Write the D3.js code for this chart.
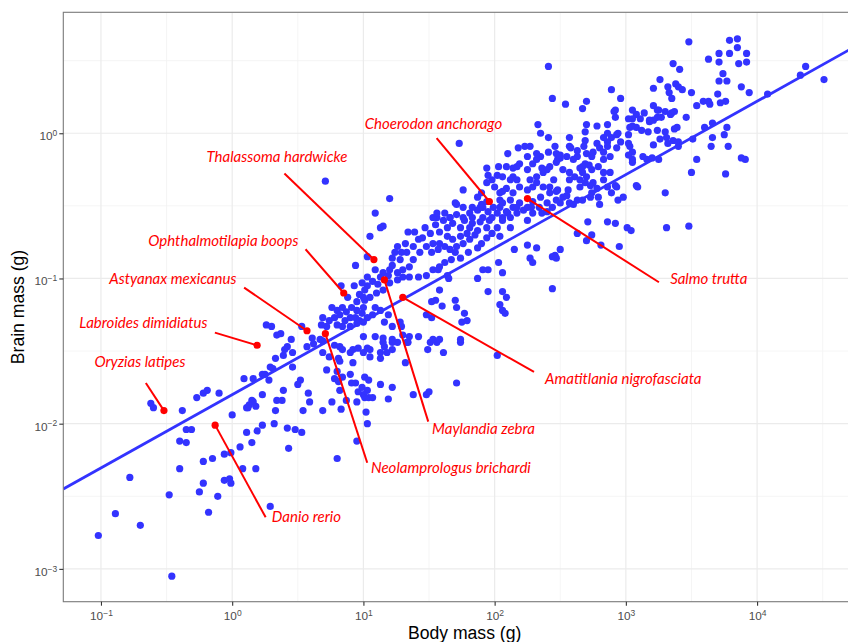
<!DOCTYPE html>
<html>
<head>
<meta charset="utf-8">
<script src="https://cdn.jsdelivr.net/npm/d3@7"></script>
<style>
  body { margin: 0; background: #fff; }
</style>
</head>
<body>
<div id="chart"></div>
<script>
// log10(body mass g), log10(brain mass g) for every species
const speciesLogMass = [
  [-1.02,-2.77],[-0.89,-2.62],[-0.70,-2.70],[-0.78,-2.37],[-0.48,-2.49],[-0.46,-3.05],[-0.38,-1.91],[-0.62,-1.86],[-0.60,-1.89],[-0.40,-2.12],
  [-0.35,-2.13],[-0.35,-2.04],[-0.31,-2.04],[-0.40,-2.31],[-0.22,-2.26],[-0.15,-2.24],[-0.22,-2.41],[-0.25,-2.47],[-0.18,-2.61],[-0.11,-2.50],
  [-0.06,-2.21],[-0.01,-2.20],[0.00,-1.94],[-0.06,-2.39],[-0.02,-2.38],[-0.01,-2.41],[0.06,-2.16],[0.08,-2.31],[0.18,-2.31],[0.11,-2.06],
  [0.19,-2.05],[0.15,-2.13],[0.11,-1.89],[0.12,-1.89],[0.18,-1.88],[0.15,-1.84],[0.23,-2.01],[0.32,-2.00],[0.33,-1.91],[0.34,-1.84],
  [0.29,-2.57],[0.42,-2.03],[0.48,-2.04],[0.43,-2.17],
  [0.94,-0.91],[0.83,-1.05],[0.93,-1.05],[0.88,-1.13],[0.97,-1.11],[1.01,-1.15],[0.95,-1.16],[0.76,-1.20],[0.80,-1.22],[0.84,-1.20],
  [0.87,-1.23],[0.91,-1.20],[0.95,-1.22],[1.00,-1.20],[0.69,-1.27],[0.74,-1.29],[0.78,-1.27],[0.82,-1.25],[0.86,-1.29],[0.90,-1.27],
  [0.94,-1.27],[0.97,-1.29],[1.03,-1.27],[0.68,-1.32],[0.72,-1.33],[0.80,-1.32],[0.84,-1.33],[0.90,-1.33],[0.95,-1.31],[1.00,-1.30],
  [0.53,-1.33],[0.26,-1.32],[0.30,-1.33],[0.34,-1.39],[0.37,-1.38],[0.45,-1.42],[0.61,-1.41],[0.42,-1.47],[0.40,-1.49],[0.46,-1.51],
  [0.57,-1.47],[0.62,-1.45],[0.67,-1.42],[0.33,-1.55],[0.29,-1.61],[0.31,-1.62],[0.25,-1.66],[0.23,-1.66],[0.46,-1.61],[0.16,-1.69],
  [0.09,-1.69],[0.28,-1.70],[0.52,-1.70],[0.50,-1.73],[0.69,-1.51],[0.74,-1.54],[0.78,-1.46],[0.82,-1.47],[0.84,-1.49],[0.90,-1.51],
  [0.92,-1.49],[0.96,-1.48],[1.00,-1.51],[1.03,-1.48],[0.72,-1.63],[0.80,-1.64],[0.84,-1.68],[0.90,-1.66],[0.94,-1.72],[0.99,-1.75],
  [1.03,-1.77],[0.58,-1.79],[0.59,-1.85],[0.76,-1.85],[0.82,-1.77],[0.87,-1.84],[0.95,-1.85],[1.00,-1.80],[0.39,-1.77],[0.38,-1.84],
  [0.23,-1.80],[0.16,-1.85],[0.13,-1.87],[-0.10,-1.79],[-0.19,-1.77],[-0.22,-1.79],[-0.27,-1.82],[1.03,-0.85],
  [0.39,-1.53],[0.54,-1.91],[0.69,-1.91],[0.83,-1.90],[0.78,-1.69],[0.81,-1.71],[0.81,-1.55],[0.82,-1.57],[0.92,-1.58],[0.91,-1.72],
  [0.96,-1.78],[1.01,-1.68],[1.04,-1.70],[1.01,-1.82],[1.04,-1.82],[1.07,-1.82],[1.02,-1.92],[1.03,-2.00],[0.95,-2.12],[0.80,-2.24],
  [0.53,-2.06],[1.13,-1.73],[1.22,-1.75],[1.19,-1.83],[1.13,-1.55],[1.18,-1.51],[1.05,-1.49],[1.32,-1.58],[1.38,-1.80],[1.48,-1.80],
  [1.50,-1.78],[1.49,-1.49],[1.56,-1.44],[1.61,-1.51],[1.71,-1.72],[1.74,-1.44],[2.02,-1.53],[0.69,-1.43],[1.15,-1.44],[1.22,-1.44],
  [1.26,-1.44],[1.34,-1.44],
  [1.09,-0.55],[1.15,-0.64],[1.13,-0.65],[1.05,-0.71],[1.34,-0.68],[1.39,-0.68],[1.32,-0.76],[1.26,-0.78],[1.24,-0.82],[1.22,-0.86],
  [1.29,-0.82],[1.47,-0.65],[1.55,-0.63],[1.51,-0.69],[1.58,-0.68],[1.64,-0.65],[1.66,-0.58],[1.71,-0.56],[1.68,-0.62],[1.74,-0.65],
  [1.77,-0.60],[1.81,-0.55],[1.87,-0.53],[1.91,-0.58],[1.83,-0.62],[1.79,-0.69],[1.74,-0.71],[1.68,-0.73],[1.64,-0.71],[1.58,-0.76],
  [1.53,-0.76],[1.48,-0.78],[1.43,-0.82],[1.38,-0.87],[1.35,-0.92],[1.30,-0.94],[1.26,-0.96],[1.20,-0.94],[1.15,-0.96],[1.13,-0.99],
  [1.09,-0.94],[1.07,-1.02],[1.03,-1.05],[1.01,-1.08],[1.00,-1.13],[1.05,-1.13],[1.10,-1.10],[1.15,-1.08],[1.20,-1.03],[1.26,-1.01],
  [1.30,-0.99],[1.35,-0.99],[1.42,-0.99],[1.48,-0.98],[1.53,-0.94],[1.58,-0.92],[1.62,-0.89],[1.67,-0.87],[1.74,-0.86],[1.80,-0.82],
  [1.87,-0.79],[1.90,-0.76],[1.94,-0.72],[1.98,-0.69],[2.02,-0.65],[2.06,-0.60],[2.10,-0.55],[2.14,-0.51],[2.19,-0.48],[2.02,-0.55],
  [1.96,-0.60],[1.99,-0.51],[2.06,-0.48],[2.12,-0.65],[2.04,-0.71],[1.45,-0.72],[1.52,-0.82],[1.57,-0.80],[1.62,-0.78],[1.66,-0.80],
  [1.71,-0.78],[1.70,-0.82],[1.76,-0.76],[1.81,-0.73],[1.85,-0.70],[1.87,-0.67],[1.81,-0.65],[1.61,-0.60],[1.56,-0.58],[1.62,-0.55],
  [1.76,-0.51],[1.90,-0.49],[1.95,-0.54],[1.38,-0.78],[1.42,-0.73],[1.33,-0.82],[1.28,-0.87],[1.22,-0.91],[1.19,-0.98],[1.11,-1.04],
  [1.03,-0.99],[0.99,-1.03],[1.94,-0.65],[1.89,-0.61],[2.17,-0.55],[2.22,-0.53],[2.28,-0.51],[2.25,-0.60],[2.29,-0.47],[2.40,-0.48],
  [2.44,-0.51],[2.36,-0.55],
  [1.57,-0.94],[1.64,-0.98],[1.65,-1.00],[1.87,-1.00],[1.95,-0.94],[1.91,-0.94],[2.03,-0.89],[2.06,-0.96],[2.15,-0.80],[2.25,-0.77],
  [2.32,-0.79],[2.27,-0.86],[2.29,-0.89],[2.46,-0.84],[2.44,-0.85],[2.44,-1.07],[1.95,-1.09],[2.06,-1.09],[2.09,-1.13],[2.06,-1.22],
  [2.04,-1.18],[2.08,-1.24],[1.58,-1.08],[1.55,-1.15],[1.52,-1.16],[1.60,-1.19],[1.70,-1.15],[1.71,-1.20],[1.77,-1.24],[1.75,-1.30],
  [1.79,-1.29],[1.52,-1.27],[1.48,-1.25],[1.28,-1.30],[1.29,-1.33],[1.22,-1.33],[1.16,-1.30],[1.19,-1.25],[1.13,-1.22],[1.09,-1.20],
  [1.07,-1.25],[0.99,-1.24],[1.00,-1.40],[1.09,-1.40],[1.15,-1.41],[1.22,-1.42],[1.16,-1.47],[1.22,-1.49],[1.13,-1.51],[1.05,-1.54],
  [1.30,-1.39],[1.35,-1.40],[1.33,-1.44],[1.42,-1.40],[1.51,-1.44],[1.53,-1.42],[1.58,-1.42],[1.74,-1.42],
  [2.41,0.46],[2.44,0.24],[2.33,0.06],[2.35,-0.00],[2.41,-0.03],[2.18,-0.10],[2.10,-0.14],[2.27,-0.09],[1.94,-0.24],[2.03,-0.23],
  [2.09,-0.23],[2.14,-0.24],[1.98,-0.32],[1.94,-0.34],[1.76,-0.39],[1.73,-0.07],[0.71,-0.33],[1.20,-0.45],[1.70,-0.48],[1.71,-0.49],
  [1.87,-0.44],[1.90,-0.41],[2.00,-0.37],[2.04,-0.41],[2.09,-0.38],[2.14,-0.41],[2.19,-0.37],[2.27,-0.32],[2.32,-0.30],[2.37,-0.27],
  [2.42,-0.23],[2.48,-0.18],[2.29,-0.21],[2.35,-0.16],[2.41,-0.13],[2.46,-0.09],[2.25,-0.16],[2.19,-0.21],[2.14,-0.30],[2.06,-0.30],
  [2.02,-0.29],[2.17,-0.32],[2.29,-0.37],[2.37,-0.37],[2.45,-0.32],[2.35,-0.44],[2.42,-0.41],[2.48,-0.39],[2.25,-0.51],[2.17,-0.51],
  [2.09,-0.54],[2.04,-0.51],[1.91,-0.51],[1.83,-0.51],[2.29,-0.55],[2.40,-0.54],[2.06,-0.58],[1.76,-0.58],[1.83,-0.58],[1.66,-0.58],
  [1.53,-0.58],[1.56,-0.55],
  [2.70,0.06],[2.78,0.05],[2.86,0.06],[2.92,0.11],[2.91,0.15],[3.05,0.16],[3.08,0.13],[3.11,0.10],[3.05,0.10],[3.18,0.08],
  [3.21,0.09],[3.24,0.11],[3.27,0.11],[3.30,0.15],[3.35,0.14],[3.25,0.16],[3.21,0.19],[3.14,0.14],[3.03,0.04],[3.08,0.04],
  [3.12,0.02],[3.17,0.01],[3.24,0.02],[3.30,0.01],[3.39,0.04],[3.36,-0.05],[3.40,-0.06],[3.26,-0.04],[3.21,-0.08],[3.13,-0.16],
  [3.02,-0.01],[3.02,-0.07],[3.05,-0.13],[3.05,-0.18],[3.16,-0.18],[3.20,-0.17],[2.69,-0.05],[2.68,-0.09],[2.70,-0.14],[2.74,-0.16],
  [2.78,-0.07],[2.80,-0.10],[2.83,-0.13],[2.86,-0.06],[2.89,-0.03],[2.93,-0.01],[2.96,-0.06],[2.93,-0.10],[2.88,-0.16],[2.83,-0.18],
  [2.79,-0.23],[2.74,-0.25],[2.69,-0.21],[2.65,-0.24],[2.63,-0.16],[2.60,-0.18],[2.55,-0.16],[2.50,-0.17],[2.47,-0.14],[2.47,-0.20],
  [2.52,-0.25],[2.57,-0.27],[2.61,-0.30],[2.65,-0.32],[2.70,-0.30],[2.75,-0.34],[2.78,-0.38],[2.83,-0.32],[2.88,-0.27],[2.93,-0.37],
  [2.86,-0.37],[2.79,-0.44],[2.73,-0.44],[2.67,-0.46],[2.63,-0.46],[2.57,-0.48],[2.52,-0.44],[2.47,-0.40],[2.42,-0.37],[2.36,-0.24],
  [2.32,-0.18],[2.23,-0.09],[2.17,-0.23],[2.12,-0.32],[2.06,-0.40],[1.95,-0.29],[2.25,-0.25],[2.32,-0.34],[2.25,-0.39],[2.12,-0.46],
  [2.04,-0.46],[1.94,-0.47],[1.89,-0.51],[1.98,-0.58],[2.12,-0.58],[2.34,-0.51],[2.50,-0.48],[2.55,-0.43],[2.40,-0.25],[2.32,-0.14],
  [2.57,-0.09],[2.63,-0.12],[2.71,-0.61],[2.86,-0.61],[2.92,-0.62],[3.01,-0.65],[3.08,-0.36],[3.30,-0.41],[3.31,-0.65],[2.80,-0.49],
  [2.94,-0.46],[2.98,-0.44],[2.89,-0.41],
  [3.48,0.63],[3.79,0.64],[3.85,0.65],[3.85,0.59],[3.79,0.55],[3.92,0.55],[3.71,0.55],[3.63,0.51],[3.71,0.49],[3.86,0.48],
  [3.92,0.49],[3.36,0.48],[3.41,0.44],[3.74,0.41],[3.71,0.36],[3.77,0.36],[3.26,0.37],[3.32,0.32],[3.38,0.34],[3.40,0.32],
  [3.43,0.30],[3.33,0.28],[3.35,0.24],[3.88,0.32],[3.94,0.28],[3.50,0.28],[3.21,0.31],[3.70,0.27],[2.89,0.30],[2.96,0.24],
  [3.54,0.19],[3.59,0.22],[3.63,0.22],[3.64,0.20],[3.72,0.21],[3.76,0.22],[2.92,0.16],[2.70,0.22],[2.67,0.17],[2.54,0.20],
  [3.02,0.10],[3.24,0.16],[3.34,0.13],[3.37,0.15],[3.18,0.09],[3.46,0.11],[3.37,0.03],[3.05,0.05],[3.03,-0.09],[3.02,-0.15],
  [3.05,-0.20],[3.25,-0.18],[3.31,-0.03],[3.32,-0.07],[3.40,-0.09],[3.51,-0.04],[3.60,0.04],[3.66,0.07],[3.77,0.04],[3.75,-0.01],
  [3.78,-0.09],[3.66,-0.03],[3.65,-0.09],[3.54,-0.18],[3.50,-0.27],[3.76,-0.28],[3.88,-0.17],[3.91,-0.18],[4.08,0.27],[4.33,0.40],
  [4.37,0.46],[4.51,0.37],[3.09,-0.37],[2.92,-0.36],[2.50,-0.15],[2.58,-0.10],[2.67,-0.23],[2.72,-0.22],[2.83,-0.27],[2.75,-0.13],
  [2.86,-0.09],[2.94,0.00],[2.86,0.00],[2.83,-0.03],[2.57,-0.03],[2.69,0.01],[2.57,-0.32],[2.67,-0.27],[2.56,-0.39],[2.65,-0.37],
  [2.73,-0.36],[2.47,-0.46],[2.74,-0.41],[2.69,-0.34],
  [3.48,-0.64],[3.04,-0.67],[2.95,-0.78],[2.81,-0.77],[2.63,-0.69],[2.70,-0.74],[2.74,-0.70],[2.50,-0.80],[2.47,-0.86],[2.60,-0.49]
];

// highlighted species
const labelSpecies = [
  "Choerodon anchorago", "Thalassoma hardwicke", "Ophthalmotilapia boops", "Astyanax mexicanus",
  "Labroides dimidiatus", "Oryzias latipes", "Danio rerio", "Neolamprologus brichardi",
  "Maylandia zebra", "Amatitlania nigrofasciata", "Salmo trutta"
];
const labelBodyLog  = [1.96, 1.08, 0.85, 0.57, 0.19, -0.52, -0.13, 0.71, 1.16, 1.30, 2.25];
const labelBrainLog = [-0.47, -0.87, -1.10, -1.36, -1.46, -1.91, -2.01, -1.38, -1.01, -1.13, -0.45];

// repelled label placement (log10 units), kept apart from the data
const labelLayout = [
  { text: [1.534, 0.030],  seg: [1.558, -0.034] },
  { text: [0.341, -0.198], seg: [0.398, -0.277] },
  { text: [-0.067, -0.773], seg: [0.559, -0.799] },
  { text: [-0.452, -1.038], seg: [0.091, -1.063] },
  { text: [-0.677, -1.341], seg: [-0.132, -1.373] },
  { text: [-0.703, -1.607], seg: [-0.658, -1.720] },
  { text: [0.566, -2.675], seg: [0.255, -2.645] },
  { text: [1.667, -2.337], seg: [1.029, -2.269] },
  { text: [1.915, -2.071], seg: [1.494, -1.986] },
  { text: [2.980, -1.727], seg: [2.300, -1.644] },
  { text: [3.632, -1.040], seg: [3.252, -1.026] }
];

const xTickExps = [-1, 0, 1, 2, 3, 4];
const yTickExps = [-3, -2, -1, 0];

// fitted allometric line: log10(brain) = a + b * log10(body)
const fitIntercept = -1.80;
const fitSlope = 0.505;

const width = 848;
const height = 642;
const panel = { left: 63.3, top: 12.3, right: 866, bottom: 601.7 };

const svg = d3.select("#chart").append("svg")
  .attr("width", width)
  .attr("height", height)
  .style("display", "block");

const x = d3.scaleLog()
  .domain([10 ** -1.287, 10 ** 4.83])
  .range([panel.left, panel.right]);

const y = d3.scaleLog()
  .domain([10 ** -3.226, 10 ** 0.833])
  .range([panel.bottom, panel.top]);

svg.append("clipPath").attr("id", "clip")
  .append("rect")
  .attr("x", panel.left).attr("y", panel.top)
  .attr("width", panel.right - panel.left)
  .attr("height", panel.bottom - panel.top);

const grid = svg.append("g");
const xMinor = xTickExps.map(e => e + 0.5).concat([-1.5]).filter(e => e > -1.287 && e < 4.83);
const yMinor = yTickExps.map(e => e + 0.5).filter(e => e > -3.226 && e < 0.833);

grid.selectAll(".xminor").data(xMinor).enter().append("line")
  .attr("x1", d => x(10 ** d)).attr("x2", d => x(10 ** d))
  .attr("y1", panel.top).attr("y2", panel.bottom)
  .attr("stroke", "#f2f2f2").attr("stroke-width", 0.8);
grid.selectAll(".yminor").data(yMinor).enter().append("line")
  .attr("y1", d => y(10 ** d)).attr("y2", d => y(10 ** d))
  .attr("x1", panel.left).attr("x2", panel.right)
  .attr("stroke", "#f2f2f2").attr("stroke-width", 0.8);
grid.selectAll(".xmajor").data(xTickExps).enter().append("line")
  .attr("x1", d => x(10 ** d)).attr("x2", d => x(10 ** d))
  .attr("y1", panel.top).attr("y2", panel.bottom)
  .attr("stroke", "#ebebeb").attr("stroke-width", 1.2);
grid.selectAll(".ymajor").data(yTickExps).enter().append("line")
  .attr("y1", d => y(10 ** d)).attr("y2", d => y(10 ** d))
  .attr("x1", panel.left).attr("x2", panel.right)
  .attr("stroke", "#ebebeb").attr("stroke-width", 1.2);

const plot = svg.append("g").attr("clip-path", "url(#clip)");

plot.selectAll("circle.fish")
  .data(speciesLogMass)
  .enter()
  .append("circle")
  .attr("class", "fish")
  .attr("cx", d => x(10 ** d[0]))
  .attr("cy", d => y(10 ** d[1]))
  .attr("r", 3.6)
  .attr("fill", "#3333ff");

// regression line over the full x range
const xDom = x.domain();
const fitLine = xDom.map(v => [v, 10 ** (fitIntercept + fitSlope * Math.log10(v))]);
plot.append("path")
  .attr("d", d3.line().x(d => x(d[0])).y(d => y(d[1]))(fitLine))
  .attr("fill", "none")
  .attr("stroke", "#3333ff")
  .attr("stroke-width", 2.8);

// highlighted species: segments, markers, labels
const labelled = labelSpecies.map((name, i) => ({
  name: name,
  body: 10 ** labelBodyLog[i],
  brain: 10 ** labelBrainLog[i],
  layout: labelLayout[i]
}));

plot.selectAll("line.seg")
  .data(labelled)
  .enter()
  .append("line")
  .attr("class", "seg")
  .attr("x1", d => x(d.body))
  .attr("y1", d => y(d.brain))
  .attr("x2", d => x(10 ** d.layout.seg[0]))
  .attr("y2", d => y(10 ** d.layout.seg[1]))
  .attr("stroke", "#ff0000")
  .attr("stroke-width", 2);

plot.selectAll("circle.hl")
  .data(labelled)
  .enter()
  .append("circle")
  .attr("class", "hl")
  .attr("cx", d => x(d.body))
  .attr("cy", d => y(d.brain))
  .attr("r", 3.6)
  .attr("fill", "#ff0000");

plot.selectAll("text.lab")
  .data(labelled)
  .enter()
  .append("text")
  .attr("class", "lab")
  .attr("x", d => x(10 ** d.layout.text[0]))
  .attr("y", d => y(10 ** d.layout.text[1]))
  .attr("text-anchor", "middle")
  .attr("font-family", "Lato, 'Open Sans', sans-serif")
  .attr("font-style", "italic")
  .attr("font-size", 15)
  .attr("fill", "#ff0000")
  .text(d => d.name);

// panel border
svg.append("rect")
  .attr("x", panel.left).attr("y", panel.top)
  .attr("width", panel.right - panel.left)
  .attr("height", panel.bottom - panel.top)
  .attr("fill", "none")
  .attr("stroke", "#7a7a7a")
  .attr("stroke-width", 1.1);

// axes with 10^k labels
const powerLabel = (sel) => {
  sel.each(function(d) {
    const e = Math.round(Math.log10(d));
    const t = d3.select(this).text(null);
    t.append("tspan").text("10");
    t.append("tspan")
      .attr("dy", "-0.5em")
      .attr("font-size", "0.72em")
      .text(e < 0 ? "\u2212" + (-e) : String(e));
  });
};

const xAxis = svg.append("g")
  .attr("transform", `translate(0, ${panel.bottom})`)
  .call(d3.axisBottom(x)
    .tickValues(xTickExps.map(e => 10 ** e))
    .tickSize(4)
    .tickPadding(6));
xAxis.select(".domain").remove();
xAxis.selectAll(".tick line").attr("stroke", "#333333").attr("stroke-width", 1.1);
xAxis.selectAll(".tick text")
  .attr("fill", "#4d4d4d")
  .attr("font-family", "'Liberation Sans', Arial, sans-serif")
  .attr("font-size", 11.8)
  .call(powerLabel);

const yAxis = svg.append("g")
  .attr("transform", `translate(${panel.left}, 0)`)
  .call(d3.axisLeft(y)
    .tickValues(yTickExps.map(e => 10 ** e))
    .tickSize(4)
    .tickPadding(2));
yAxis.select(".domain").remove();
yAxis.selectAll(".tick line").attr("stroke", "#333333").attr("stroke-width", 1.1);
yAxis.selectAll(".tick text")
  .attr("fill", "#4d4d4d")
  .attr("dy", "0.55em")
  .attr("font-family", "'Liberation Sans', Arial, sans-serif")
  .attr("font-size", 11.8)
  .call(powerLabel);

svg.append("text")
  .attr("x", (panel.left + panel.right) / 2)
  .attr("y", 639)
  .attr("text-anchor", "middle")
  .attr("font-family", "'Liberation Sans', Arial, sans-serif")
  .attr("font-size", 17.6)
  .attr("fill", "#000")
  .text("Body mass (g)");

svg.append("text")
  .attr("transform", `translate(24, ${(panel.top + panel.bottom) / 2}) rotate(-90)`)
  .attr("text-anchor", "middle")
  .attr("font-family", "'Liberation Sans', Arial, sans-serif")
  .attr("font-size", 17.6)
  .attr("fill", "#000")
  .text("Brain mass (g)");
</script>
</body>
</html>
